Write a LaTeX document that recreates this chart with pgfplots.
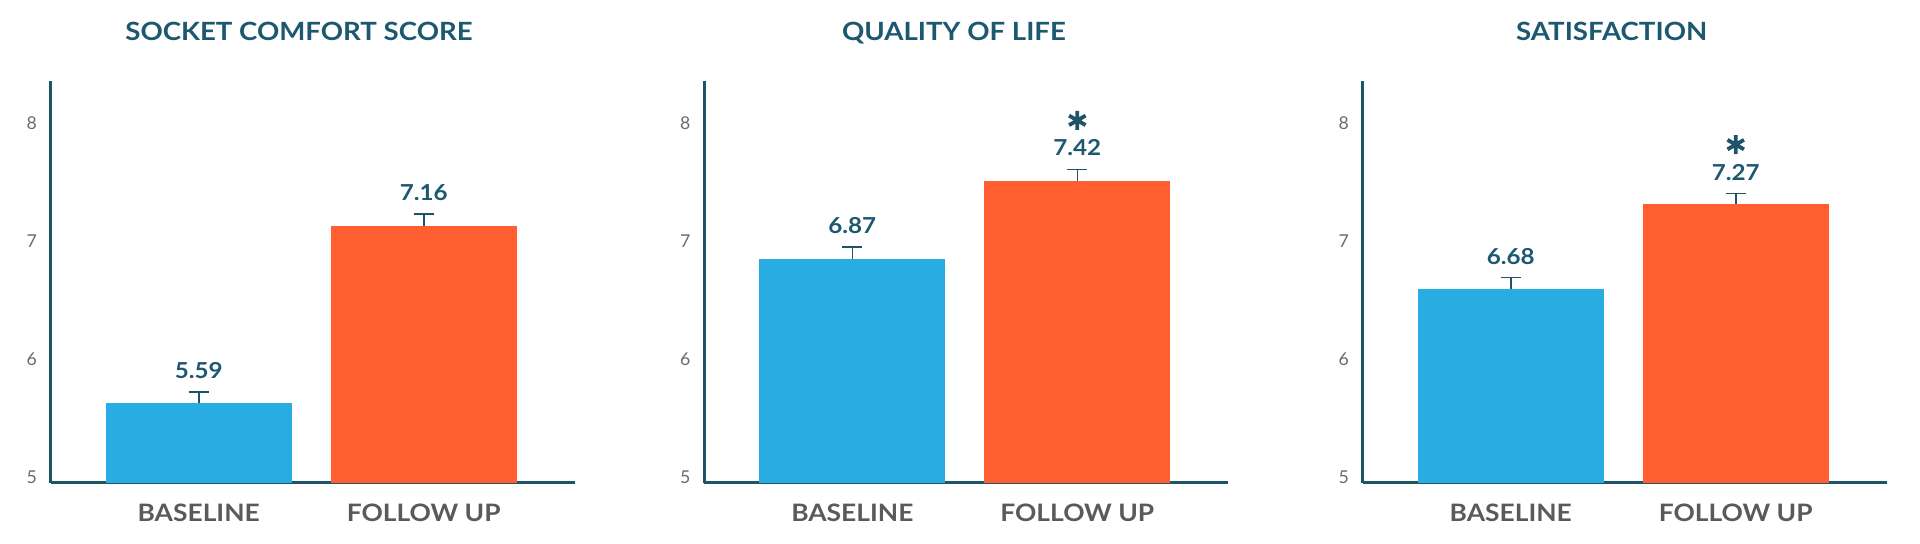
\documentclass[border=0pt]{standalone}
\usepackage{pgfplots}
\pgfplotsset{compat=1.18}
\usepackage{pgfplotstable}
\usepackage{fontspec}
\setmainfont{Lato}
\newfontface\hb{Lato Bold}[FakeStretch=1.1]
\definecolor{ttl}{HTML}{1C5870}
\definecolor{axc}{HTML}{1D5468}
\definecolor{bblue}{HTML}{29ACE2}
\definecolor{borange}{HTML}{FF5F30}
\definecolor{catgray}{HTML}{5A5A5A}
\definecolor{tickgray}{HTML}{6B6B6B}

% x: 0 = Baseline, 1 = Follow up; y = bar height; e = error; label = printed value
\pgfplotstableread{
x y e label
0 5.63 0.09 5.59
1 7.13 0.095 7.16
}\dataA
\pgfplotstableread{
x y e label
0 6.85 0.10 6.87
1 7.51 0.095 7.42
}\dataB
\pgfplotstableread{
x y e label
0 6.59 0.10 6.68
1 7.31 0.09 7.27
}\dataC

\pgfplotsset{
  panel/.style={
    scale only axis, width=524bp, height=402bp, anchor=south west,
    xmin=-0.6578, xmax=1.6711, ymin=4.9543, ymax=8.3553,
    axis x line*=bottom, axis y line*=left,
    axis line style={draw=axc, line width=3bp},
    xtick={0,1}, xticklabels={BASELINE,FOLLOW UP},
    ytick={5,6,7,8}, yticklabels={5,6,7,8},
    major tick length=0pt, tick style={draw=none},
    xticklabel style={anchor=base, yshift=-38.8bp, inner sep=0pt,
      font=\fontsize{24bp}{28bp}\hb, text=catgray},
    yticklabel style={anchor=center, xshift=-19bp, inner sep=0pt,
      font=\fontsize{17.7bp}{20bp}\selectfont, text=tickgray},
  },
  bars/.style={ybar, bar width=186bp, draw=none, fill=#1,
    error bars/.cd, y dir=plus, y explicit,
    error bar style={draw=axc, line width=1.6bp},
    error mark options={rotate=90, draw=axc, line width=1.6bp, mark size=10bp}},
  vals/.style={draw=none, mark=none, nodes near coords, point meta=explicit symbolic,
    nodes near coords style={anchor=base, yshift=13.5bp, inner sep=0pt,
      font=\fontsize{22bp}{26bp}\hb, text=ttl}},
  star/.style={only marks, mark=asterisk, mark size=9.5bp,
    mark options={draw=axc, line width=3.8bp, yshift=49bp}},
}

\begin{document}
\begin{tikzpicture}[x=1bp,y=1bp]
\path[use as bounding box] (0,0) rectangle (1920,544);

\begin{axis}[panel, at={(50.7bp,61.3bp)}]
\addplot[bars=bblue] table[x=x, y=y, y error=e, restrict expr to domain={\thisrow{x}}{0:0}] {\dataA};
\addplot[bars=borange] table[x=x, y=y, y error=e, restrict expr to domain={\thisrow{x}}{1:1}] {\dataA};
\addplot[vals] table[x=x, y expr=\thisrow{y}+\thisrow{e}, meta=label] {\dataA};
\end{axis}

\begin{axis}[panel, at={(704.3bp,61.3bp)}]
\addplot[bars=bblue] table[x=x, y=y, y error=e, restrict expr to domain={\thisrow{x}}{0:0}] {\dataB};
\addplot[bars=borange] table[x=x, y=y, y error=e, restrict expr to domain={\thisrow{x}}{1:1}] {\dataB};
\addplot[vals] table[x=x, y expr=\thisrow{y}+\thisrow{e}, meta=label] {\dataB};
\addplot[star] coordinates {(1,7.605)};
\end{axis}

\begin{axis}[panel, at={(1362.7bp,61.3bp)}]
\addplot[bars=bblue] table[x=x, y=y, y error=e, restrict expr to domain={\thisrow{x}}{0:0}] {\dataC};
\addplot[bars=borange] table[x=x, y=y, y error=e, restrict expr to domain={\thisrow{x}}{1:1}] {\dataC};
\addplot[vals] table[x=x, y expr=\thisrow{y}+\thisrow{e}, meta=label] {\dataC};
\addplot[star] coordinates {(1,7.40)};
\end{axis}

\begin{scope}[every node/.style={anchor=base, inner sep=0pt, text=ttl,
    font=\fontsize{25.1bp}{30bp}\hb}]
\node at (299,503.3) {SOCKET COMFORT SCORE};
\node at (954,503.3) {QUALITY OF LIFE};
\node at (1611.7,503.3) {SATISFACTION};
\end{scope}
\end{tikzpicture}
\end{document}
